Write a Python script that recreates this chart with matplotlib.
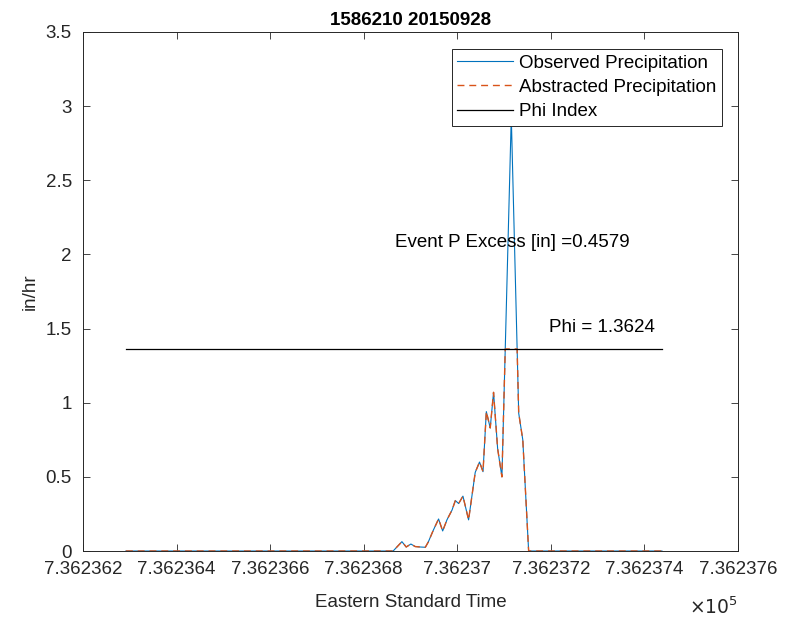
import numpy as np
import matplotlib
matplotlib.use("Agg")
import matplotlib.pyplot as plt
from matplotlib.ticker import FuncFormatter, MultipleLocator

# ---- data ----
title = "1586210 20150928"
base_datenum = 736236.0          # MATLAB datenum of the event day (00:00)
# hours after base_datenum
hours = [7.00, 20.71, 21.16, 21.38, 21.62, 21.84, 22.10, 22.36, 22.51, 22.77,
         23.04, 23.25, 23.47, 23.73, 23.90, 24.07, 24.29, 24.58, 24.92, 25.14,
         25.32, 25.49, 25.69, 25.86, 26.07, 26.29, 26.46, 26.77, 27.07, 27.15,
         27.36, 27.66, 34.50]
observed = [0.0, 0.0, 0.063, 0.027, 0.047, 0.030, 0.027, 0.025, 0.060, 0.140,
            0.216, 0.135, 0.210, 0.276, 0.340, 0.320, 0.370, 0.210, 0.530, 0.600,
            0.535, 0.940, 0.830, 1.070, 0.690, 0.500, 1.3624, 2.930, 1.3624, 0.930,
            0.750, 0.0, 0.0]
phi = 1.3624
event_excess = 0.4579

abstracted = np.minimum(np.array(observed), phi)
t = base_datenum + np.array(hours) / 24.0

plt.rcParams['font.family'] = ['Liberation Sans', 'DejaVu Sans']
fs = 13.5
dark = '#262626'

fig = plt.figure(figsize=(7.92, 6.18), dpi=100)
ax = fig.add_axes([83/792, 1 - 551/618, (738-83)/792, (551-32)/618])

ax.plot(t, observed, color='#0072BD', lw=0.8, label='Observed Precipitation')
ax.plot(t, abstracted, color='#D95319', lw=1.0, ls=(0, (5, 3.5)),
        label='Abstracted Precipitation')
ax.plot([t[0], t[-1]], [phi, phi], color='k', lw=0.9, label='Phi Index')

ax.text(base_datenum + 0.867, 2.08, f"Event P Excess [in] ={event_excess:.4f}",
        fontsize=fs, ha='left', va='center', color='k')
ax.text(base_datenum + 1.195, 1.51, f"Phi = {phi:.4f}",
        fontsize=fs, ha='left', va='center', color='k')

ax.set_xlim(736236.2, 736237.6)
ax.set_ylim(0, 3.5)
ax.xaxis.set_major_locator(MultipleLocator(0.2))
ax.yaxis.set_major_locator(MultipleLocator(0.5))
ax.xaxis.set_major_formatter(FuncFormatter(lambda v, p: f"{v/1e5:.7g}"))
ax.yaxis.set_major_formatter(FuncFormatter(lambda v, p: f"{v:g}"))

ax.tick_params(direction='in', length=5, width=0.6, top=True, right=True,
               labelsize=fs, colors=dark)
ax.tick_params(axis='x', pad=7)
ax.tick_params(axis='y', pad=8)
for s in ax.spines.values():
    s.set_color(dark)
    s.set_linewidth(0.7)

ax.set_title(title, fontsize=fs, fontweight='bold', color='k', pad=5)
ax.set_xlabel("Eastern Standard Time", fontsize=fs, color=dark, labelpad=12)
ax.set_ylabel("in/hr", fontsize=fs, color=dark, labelpad=5)
ax.text(1.0, -0.108, r"$\times10^{5}$", transform=ax.transAxes, ha='right',
        va='center', fontsize=fs, color=dark)

leg = ax.legend(loc='upper right', bbox_to_anchor=((722-83)/655, (551-49)/519),
                borderaxespad=0, fontsize=fs, frameon=True, fancybox=False,
                handlelength=3.0, handletextpad=0.3, labelspacing=0.38,
                borderpad=0.3)
leg.get_frame().set_edgecolor(dark)
leg.get_frame().set_linewidth(0.7)
leg.get_frame().set_alpha(1)

fig.savefig("out.png", dpi=100, facecolor='white')
